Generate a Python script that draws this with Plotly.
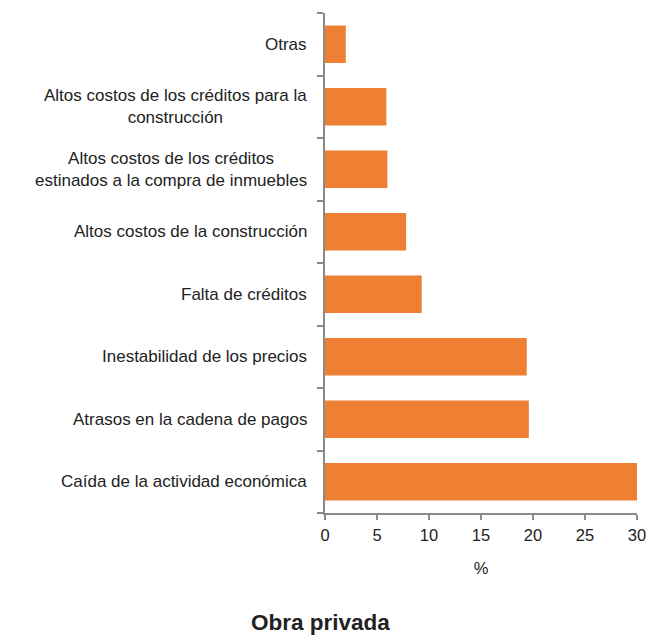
import plotly.graph_objects as go

categories = [
    "Caída de la actividad económica",
    "Atrasos en la cadena de pagos",
    "Inestabilidad de los precios",
    "Falta de créditos",
    "Altos costos de la construcción",
    "Altos costos de los créditos<br>estinados a la compra de inmuebles",
    "Altos costos de los créditos para la<br>construcción",
    "Otras",
]
values = [30.0, 19.6, 19.4, 9.3, 7.8, 6.0, 5.9, 2.0]
x_ticks = [0, 5, 10, 15, 20, 25, 30]

FONT = "Liberation Sans, Arial, Helvetica, sans-serif"
AXIS_COLOR = "#8a8a8a"
TEXT_COLOR = "#222222"

fig = go.Figure(go.Bar(
    x=values, y=categories, orientation="h",
    marker=dict(color="#EE7F33", line=dict(width=0)),
    width=0.6,
))

for c in categories:
    fig.add_annotation(
        x=0, y=c, xref="paper", yref="y", text=c, showarrow=False,
        xanchor="right", yanchor="middle", align="center", xshift=-16,
        font=dict(family=FONT, size=17, color=TEXT_COLOR),
    )

fig.add_annotation(
    x=-0.013, y=-0.218, xref="paper", yref="paper", text="<b>Obra privada</b>",
    showarrow=False, xanchor="center", yanchor="middle",
    font=dict(family=FONT, size=22.5, color=TEXT_COLOR),
)

fig.update_layout(
    width=650, height=637,
    margin=dict(l=325, r=13, t=13, b=124, autoexpand=False),
    plot_bgcolor="white", paper_bgcolor="white",
    showlegend=False,
    font=dict(family=FONT, size=16.5, color=TEXT_COLOR),
    xaxis=dict(
        range=[0, 30], tickvals=x_ticks, ticktext=[str(v) for v in x_ticks],
        automargin=False, ticklabeloverflow="allow",
        showgrid=False, zeroline=False, showline=True, linecolor=AXIS_COLOR, linewidth=2,
        ticks="outside", ticklen=5, tickwidth=2, tickcolor=AXIS_COLOR,
        ticklabelstandoff=1,
        tickfont=dict(family=FONT, size=16.5, color=TEXT_COLOR),
        title=dict(text="%", font=dict(family=FONT, size=16.5, color=TEXT_COLOR), standoff=20),
    ),
    yaxis=dict(
        type="category", range=[-0.5, 7.5], automargin=False,
        showgrid=False, zeroline=False, showline=True, linecolor=AXIS_COLOR, linewidth=2,
        ticks="outside", ticklen=6, tickwidth=2, tickcolor=AXIS_COLOR,
        tickson="boundaries", showticklabels=False,
    ),
)

fig.write_html(
    "out.html",
    config={"displayModeBar": False},
    post_script="document.body.style.margin='0';document.body.style.overflow='hidden';",
)
